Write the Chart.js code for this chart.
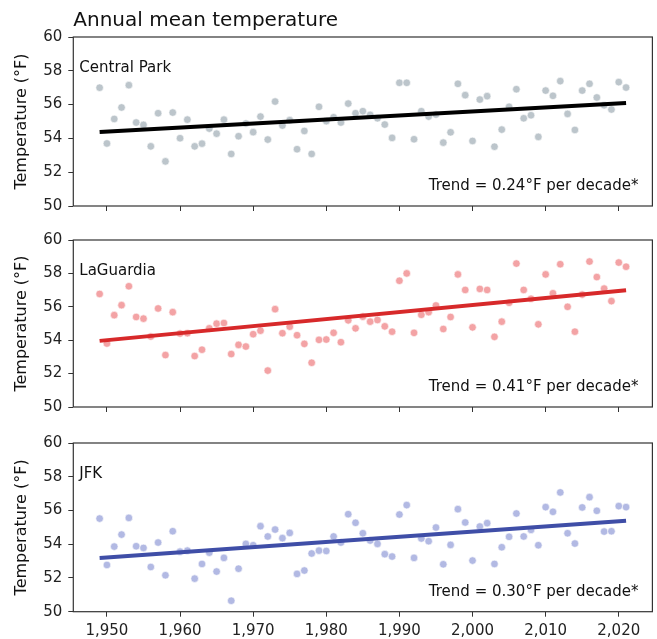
<!DOCTYPE html>
<html>
<head>
<meta charset="utf-8">
<script src="https://cdn.jsdelivr.net/npm/chart.js@4"></script>
<style>
body { margin: 0; background: #fff; }
#wrap { position: relative; width: 657px; height: 639px; }
canvas { position: absolute; left: 0; }
</style>
</head>
<body>
<div id="wrap">
	<canvas id="central-park" width="657" height="222" style="top:0px"></canvas>
	<canvas id="laguardia" width="657" height="200" style="top:222px"></canvas>
	<canvas id="jfk" width="657" height="217" style="top:422px"></canvas>
</div>
<script>
const years = [
	1949, 1950, 1951, 1952, 1953, 1954, 1955, 1956, 1957, 1958,
	1959, 1960, 1961, 1962, 1963, 1964, 1965, 1966, 1967, 1968,
	1969, 1970, 1971, 1972, 1973, 1974, 1975, 1976, 1977, 1978,
	1979, 1980, 1981, 1982, 1983, 1984, 1985, 1986, 1987, 1988,
	1989, 1990, 1991, 1992, 1993, 1994, 1995, 1996, 1997, 1998,
	1999, 2000, 2001, 2002, 2003, 2004, 2005, 2006, 2007, 2008,
	2009, 2010, 2011, 2012, 2013, 2014, 2015, 2016, 2017, 2018,
	2019, 2020, 2021
];

const centralPark = [
	57.0, 53.7, 55.15, 55.83, 57.15, 54.94, 54.8, 53.53, 55.49, 52.64,
	55.53, 54.01, 55.11, 53.53, 53.69, 54.58, 54.28, 55.11, 53.08, 54.13,
	54.88, 54.37, 55.29, 53.93, 56.18, 54.76, 55.08, 53.36, 54.44, 53.08,
	55.87, 55.02, 55.25, 54.94, 56.06, 55.49, 55.61, 55.39, 55.19, 54.82,
	54.03, 57.29, 57.29, 53.95, 55.61, 55.29, 55.41, 53.75, 54.36, 57.23,
	56.56, 53.85, 56.3, 56.5, 53.51, 54.52, 55.87, 56.91, 55.19, 55.37,
	54.09, 56.83, 56.52, 57.39, 55.45, 54.5, 56.83, 57.23, 56.42, 55.96,
	55.71, 57.33, 57.01
];

const laGuardia = [
	56.77, 53.8, 55.5, 56.1, 57.23, 55.39, 55.29, 54.22, 55.9, 53.11,
	55.68, 54.4, 54.42, 53.05, 53.43, 54.71, 54.99, 55.03, 53.17, 53.72,
	53.62, 54.36, 54.57, 52.18, 55.86, 54.42, 54.81, 54.3, 53.78, 52.65,
	54.02, 54.04, 54.44, 53.88, 55.19, 54.71, 55.41, 55.11, 55.21, 54.83,
	54.51, 57.56, 58.0, 54.44, 55.52, 55.68, 56.08, 54.67, 55.39, 57.94,
	57.01, 54.77, 57.07, 57.01, 54.2, 55.11, 56.24, 58.59, 57.01, 56.48,
	54.95, 57.94, 56.81, 58.55, 56.0, 54.51, 56.73, 58.71, 57.78, 57.09,
	56.34, 58.65, 58.4
];

const jfk = [
	55.52, 52.77, 53.86, 54.57, 55.56, 53.88, 53.78, 52.65, 54.1, 52.16,
	54.77, 53.56, 53.62, 51.96, 52.83, 53.5, 52.38, 53.19, 50.65, 52.55,
	54.02, 53.94, 55.07, 54.46, 54.87, 54.36, 54.67, 52.24, 52.44, 53.45,
	53.62, 53.6, 54.46, 54.1, 55.78, 55.27, 54.65, 54.22, 54.02, 53.41,
	53.27, 55.76, 56.32, 53.19, 54.34, 54.18, 54.99, 52.81, 53.96, 56.08,
	55.29, 53.03, 55.05, 55.25, 52.83, 53.82, 54.44, 55.82, 54.46, 54.85,
	53.94, 56.2, 55.92, 57.07, 54.65, 54.04, 56.18, 56.79, 55.98, 54.75,
	54.77, 56.26, 56.2
];

// trend line end values, at first and last year
const trendYears = [1949, 2021];
const centralParkTrend = [54.38, 56.10];
const laGuardiaTrend = [53.96, 56.99];
const jfkTrend = [53.19, 55.39];

const xTicks = [1950, 1960, 1970, 1980, 1990, 2000, 2010, 2020];
const yTicks = [50, 52, 54, 56, 58, 60];

const FONT = '"DejaVu Sans", sans-serif';
Chart.defaults.font.family = FONT;
Chart.defaults.color = '#111';

// frame + station name + trend text
const panelText = {
	id: 'panelText',
	afterDatasetsDraw(chart, args, opts) {
		const { ctx, chartArea: a } = chart;
		ctx.save();
		ctx.strokeStyle = '#333';
		ctx.lineWidth = 1.2;
		ctx.strokeRect(a.left, a.top, a.right - a.left, a.bottom - a.top);
		ctx.fillStyle = '#111';
		ctx.font = '15px ' + FONT;
		ctx.textBaseline = 'alphabetic';
		ctx.textAlign = 'left';
		ctx.fillText(opts.station, a.left + 6, a.top + 34.5);
		ctx.textAlign = 'right';
		ctx.fillText(opts.trend, a.right - 14, a.bottom - 16);
		ctx.restore();
	}
};

function makePanel(id, station, trendLabel, values, trend, dotColor, lineColor, opts) {
	new Chart(
		document.getElementById(id),
		{
			type: 'scatter',
			data: {
				datasets: [
					{
						type: 'line',
						data: trendYears.map((y, i) => ({ x: y, y: trend[i] })),
						borderColor: lineColor,
						borderWidth: 4,
						pointRadius: 0,
						fill: false
					},
					{
						data: years.map((y, i) => ({ x: y, y: values[i] })),
						backgroundColor: dotColor,
						borderColor: '#ffffff',
						borderWidth: 0.6,
						pointRadius: 3.8
					}
				]
			},
			options: {
				responsive: false,
				animation: false,
				events: [],
				layout: { padding: { top: opts.padTop, right: 4.3, bottom: 0, left: 0 } },
				scales: {
					x: {
						type: 'linear',
						min: 1945.4,
						max: 2024.6,
						afterBuildTicks: axis => { axis.ticks = xTicks.map(v => ({ value: v })); },
						afterFit: axis => { axis.height = opts.xHeight; },
						border: { display: false },
						grid: { drawOnChartArea: false, drawTicks: true, tickLength: 5, color: '#333' },
						ticks: { display: opts.showX, color: '#222', font: { size: 15 }, padding: 5, maxRotation: 0 }
					},
					y: {
						min: 50,
						max: 60,
						afterBuildTicks: axis => { axis.ticks = yTicks.map(v => ({ value: v })); },
						afterFit: axis => { axis.width = 73.3; },
						border: { display: false },
						grid: { drawOnChartArea: false, drawTicks: true, tickLength: 5, color: '#333' },
						ticks: { color: '#222', font: { size: 15 }, padding: 6 },
						title: {
							display: true,
							text: 'Temperature (°F)',
							color: '#111',
							font: { size: 16 },
							padding: { top: 12, bottom: 0 }
						}
					}
				},
				plugins: {
					legend: { display: false },
					tooltip: { enabled: false },
					title: {
						display: opts.title != null,
						text: opts.title || '',
						align: 'start',
						fullSize: false,
						color: '#111',
						font: { size: 20, weight: 'normal' },
						padding: { top: 9, bottom: 4 }
					},
					panelText: { station: station, trend: trendLabel }
				}
			},
			plugins: [panelText]
		}
	);
}

// Central Park
makePanel('central-park', 'Central Park', 'Trend = 0.24°F per decade*',
	centralPark, centralParkTrend, '#bcc5cb', '#000000',
	{ title: 'Annual mean temperature', padTop: 0, xHeight: 16, showX: false });

// LaGuardia
makePanel('laguardia', 'LaGuardia', 'Trend = 0.41°F per decade*',
	laGuardia, laGuardiaTrend, '#f3a3a5', '#d7292a',
	{ title: null, padTop: 18, xHeight: 13.5, showX: false });

// JFK
makePanel('jfk', 'JFK', 'Trend = 0.30°F per decade*',
	jfk, jfkTrend, '#b2b9e3', '#3f4ea7',
	{ title: null, padTop: 21, xHeight: 27.3, showX: true });
</script>
</body>
</html>
